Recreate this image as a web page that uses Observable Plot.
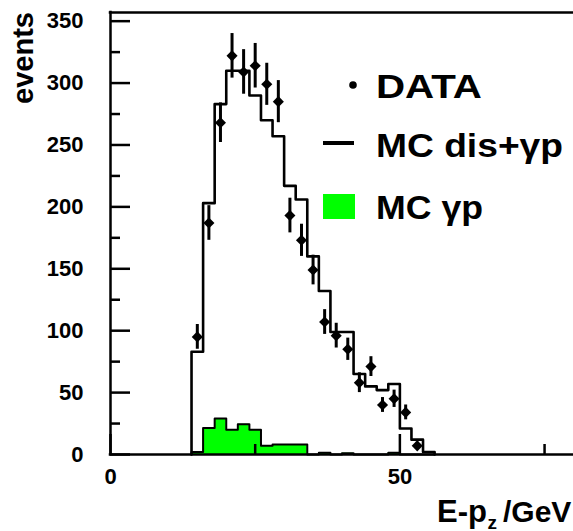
<!DOCTYPE html>
<html><head><meta charset="utf-8">
<script src="https://cdn.jsdelivr.net/npm/d3@7"></script>
<script src="https://cdn.jsdelivr.net/npm/@observablehq/plot@0.6"></script>
<style>
html,body{margin:0;padding:0;background:#fff;}
#chart{width:573px;height:531px;overflow:hidden;}
#chart svg{display:block;}
</style></head><body><div id="chart"></div>
<script>
// ---- data ----
const binEdges = [14,16,18,20,22,24,26,28,30,32,34,36,38,40,42,44,46,48,50,52,54,56];
const mcDisGammaP = [83,203,283,310,310,290,270,257,217,206,160,132,99,99,65,55,52,57,21,12,2];
const mcGammaP    = [2,21.5,29,20,24.5,20,7,8,8,8,0,1.5,0,1,0,0,0,1.5,0,0,0];
const dataX   = [15,17,19,21,23,25,27,29,31,33,35,37,39,41,43,45,47,49,51,53];
const dataY   = [95,187,268,322,309,314,299,285,193,173,149,107,96,85,58,71,40,45,34,7];
const dataErr = [10,14,16,18,18,18,17,17,14,13,12,10,10,9,8,8,6,7,6,3];
const xTickLabels = [0,50];
const xMinorTicks = [25,75];
const yTickLabels = [0,50,100,150,200,250,300,350];
const yMinorTicks = [25,75,125,175,225,275,325];
const xDomain = [0,80];
const yDomain = [0,357];
const legendLabels = ["DATA","MC dis+\u03b3p","MC \u03b3p"];
const yTitle = "events";
const xTitleParts = ["E-p", "z", "/GeV"];

// ---- layout ----
const W = 573, H = 531, mL = 110, mR = 0, mT = 12, mB = 77;
const frameW = W - mL - mR, frameH = H - mT - mB;
const FONT = "'Liberation Sans', Arial, Helvetica, sans-serif";
const GREEN = "#00ff00";

function stepPoints(values){
  const pts = [{x: binEdges[0], y: 0}];
  values.forEach((v,i) => pts.push({x: binEdges[i], y: v}));
  pts.push({x: binEdges[binEdges.length-1], y: values[values.length-1]});
  pts.push({x: binEdges[binEdges.length-1], y: 0});
  return pts;
}
const mcPts = stepPoints(mcDisGammaP);
const gpPts = stepPoints(mcGammaP);
const points = dataX.map((x,i) => ({x, y: dataY[i], e: dataErr[i]}));
const diamond = d3.symbolDiamond2 || "diamond";

const plot = Plot.plot({
  width: W, height: H,
  marginLeft: mL, marginRight: mR, marginTop: mT, marginBottom: mB,
  x: {domain: xDomain},
  y: {domain: yDomain},
  style: {fontFamily: FONT, color: "black", background: "white", overflow: "visible"},
  marks: [
    Plot.areaY(gpPts, {x: "x", y: "y", curve: "step-after", fill: GREEN}),
    Plot.line(gpPts, {x: "x", y: "y", curve: "step-after", stroke: "black", strokeWidth: 2}),
    Plot.line(mcPts, {x: "x", y: "y", curve: "step-after", stroke: "black", strokeWidth: 2.6}),
    Plot.ruleX(points, {x: "x", y1: d => d.y - d.e, y2: d => d.y + d.e, stroke: "black", strokeWidth: 3}),
    Plot.dot(points, {x: "x", y: "y", r: 5, symbol: diamond, fill: "black", stroke: "none"}),
    // frame lines
    Plot.ruleX([xDomain[0]], {stroke: "black", strokeWidth: 2.5, strokeLinecap: "square"}),
    Plot.ruleY([yDomain[0]], {stroke: "black", strokeWidth: 2.5, strokeLinecap: "square"}),
    Plot.ruleY([yDomain[1]], {stroke: "black", strokeWidth: 2.5, strokeLinecap: "square"}),
    // inward ticks
    Plot.tickY(yTickLabels, {y: d => d, insetRight: frameW - 20, stroke: "black", strokeWidth: 2.5}),
    Plot.tickY(yMinorTicks, {y: d => d, insetRight: frameW - 10, stroke: "black", strokeWidth: 2.5}),
    Plot.tickX(xTickLabels, {x: d => d, insetTop: frameH - 20, stroke: "black", strokeWidth: 2.5}),
    Plot.tickX(xMinorTicks, {x: d => d, insetTop: frameH - 10, stroke: "black", strokeWidth: 2.5}),
    // tick labels
    Plot.axisY(yTickLabels, {anchor: "left", tickSize: 0, tickPadding: 27, fontSize: 22, fontWeight: "bold", label: null, fill: "black"}),
    Plot.axisX(xTickLabels, {anchor: "bottom", tickSize: 0, tickPadding: 14, fontSize: 22, fontWeight: "bold", label: null, fill: "black"})
  ]
});
document.getElementById("chart").appendChild(plot);

// ---- titles and legend ----
const svg = d3.select(plot);
const g = svg.append("g").attr("font-family", FONT).attr("font-weight", "bold")
  .attr("fill", "black").attr("text-anchor", "start");

// y title
g.append("text").attr("transform", "translate(33,58) rotate(-90)")
  .attr("text-anchor", "middle").attr("font-size", 29).text(yTitle);

// x title (E-p with subscript z, then /GeV)
g.append("text").attr("x", 437).attr("y", 521.5).attr("font-size", 31).text(xTitleParts[0]);
g.append("text").attr("x", 487.5).attr("y", 528.5).attr("font-size", 19).text(xTitleParts[1]);
g.append("text").attr("x", 503).attr("y", 521.5).attr("font-size", 30).text(xTitleParts[2]);

// legend
const lx = 376;
const legendWidths = [106, 187, 107];
function legendText(i, y){
  g.append("text").attr("x", lx).attr("y", y).attr("font-size", 34)
    .attr("textLength", legendWidths[i]).attr("lengthAdjust", "spacingAndGlyphs")
    .text(legendLabels[i]);
}
g.append("circle").attr("cx", 353).attr("cy", 85).attr("r", 3.8).attr("fill", "black");
legendText(0, 97.5);
g.append("line").attr("x1", 323).attr("x2", 354).attr("y1", 143).attr("y2", 143)
  .attr("stroke", "black").attr("stroke-width", 4);
legendText(1, 157);
g.append("rect").attr("x", 323).attr("y", 194).attr("width", 32).attr("height", 25).attr("fill", GREEN);
legendText(2, 218.5);
</script>
</body></html>
